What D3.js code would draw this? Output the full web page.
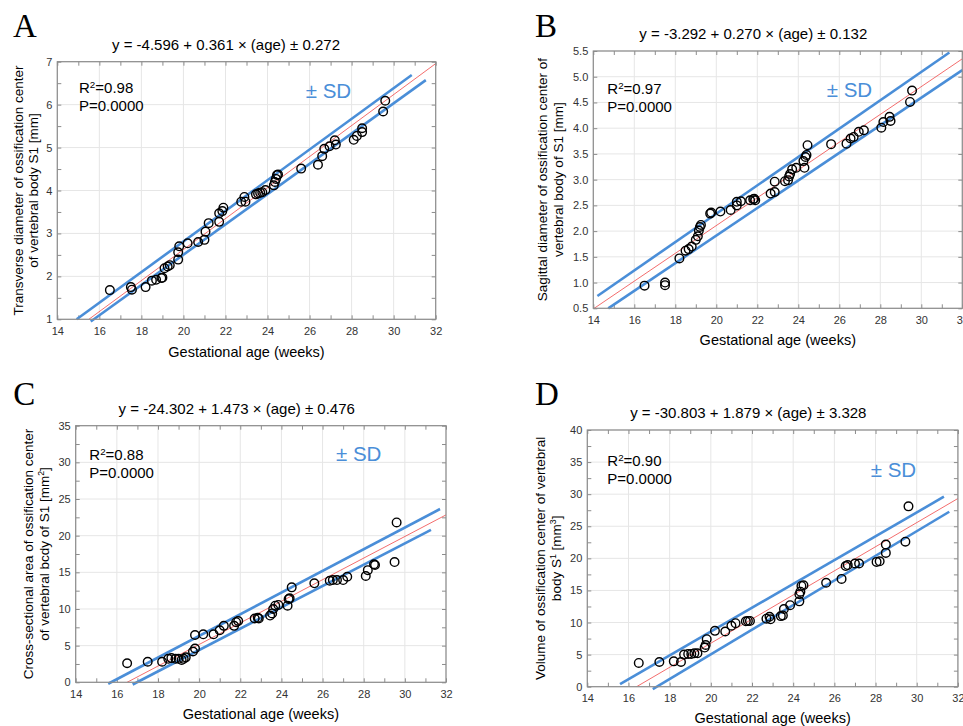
<!DOCTYPE html>
<html>
<head>
<meta charset="UTF-8">
<title>S1 ossification center vs gestational age</title>
<style>
    body { margin: 0; background: #fff; }
    svg { display: block; font-family: "Liberation Sans", Arial, sans-serif; }
    .grid line { stroke: #e6e6e6; stroke-width: 1; }
    .frame { fill: none; stroke: #8c8c8c; stroke-width: 1.2; }
    .minor line { stroke: #8c8c8c; stroke-width: 1; }
    .minor .domain, .labels .domain, .labels line { display: none; }
    .labels text { font-size: 11px; fill: #333; font-family: "Liberation Sans", Arial, sans-serif; }
    .fit { fill: none; stroke: #f04848; stroke-width: 0.8; }
    .sd { fill: none; stroke: #4a8ed8; stroke-width: 2.6; }
    .dot { fill: none; stroke: #000; stroke-width: 1.4; }
    .letter { font-family: "Liberation Serif", "Times New Roman", serif; font-size: 33px; }
    .eq { font-size: 15px; }
    .ylab { font-size: 13.5px; }
    .xlab { font-size: 14.5px; }
    .stat { font-size: 15px; }
    .sdlab { font-size: 20.5px; fill: #4a8ed8; }
</style>
</head>
<body>
<script src="https://d3js.org/d3.v7.min.js"></script>
<script>
    var xTicks = [14, 16, 18, 20, 22, 24, 26, 28, 30, 32];

    // A: transverse diameter (mm)
    var agesA = [16.5, 17.5, 17.55, 18.2, 18.5, 18.7, 18.95, 19.0, 19.1, 19.25, 19.35, 19.75, 19.75, 19.8,
        20.2, 20.7, 21.0, 21.05, 21.2, 21.7, 21.7, 21.85, 21.9, 22.75, 22.9, 22.95, 23.45, 23.55, 23.65,
        23.75, 23.9, 24.3, 24.35, 24.4, 24.45, 24.5, 25.6, 26.4, 26.6, 26.7, 26.95, 27.2, 27.25, 28.1,
        28.25, 28.5, 28.5, 29.5, 29.6];
    var transverse = [1.68, 1.75, 1.69, 1.75, 1.90, 1.92, 1.96, 1.97, 2.19, 2.23, 2.26, 2.39, 2.56, 2.70,
        2.77, 2.80, 2.85, 3.04, 3.24, 3.27, 3.47, 3.52, 3.60, 3.74, 3.85, 3.74, 3.91, 3.93, 3.95,
        3.96, 4.01, 4.12, 4.20, 4.27, 4.36, 4.37, 4.51, 4.60, 4.80, 4.97, 5.03, 5.17, 5.07, 5.18,
        5.27, 5.36, 5.45, 5.84, 6.09];
    var fitA = [-4.596, 0.361];
    var sdUpperA = [[14.92, 1.0], [30.86, 6.69]];
    var sdLowerA = [[15.59, 0.95], [31.53, 6.57]];
    var yTicksA = [1, 2, 3, 4, 5, 6, 7];

    // B: sagittal diameter (mm)
    var agesB = [16.5, 17.5, 17.5, 18.2, 18.5, 18.65, 18.8, 19.0, 19.1, 19.15, 19.2, 19.25, 19.7, 19.75,
        20.2, 20.7, 21.0, 21.0, 21.2, 21.65, 21.8, 21.85, 21.9, 22.65, 22.85, 22.85, 23.35, 23.5, 23.55,
        23.6, 23.7, 23.9, 24.25, 24.3, 24.35, 24.4, 24.45, 25.6, 26.35, 26.55, 26.7, 26.95, 27.2, 28.05,
        28.15, 28.45, 28.5, 29.45, 29.55];
    var sagittal = [0.94, 1.00, 0.95, 1.47, 1.62, 1.65, 1.70, 1.83, 1.90, 2.01, 2.08, 2.12, 2.34, 2.36,
        2.38, 2.41, 2.50, 2.57, 2.58, 2.60, 2.62, 2.63, 2.60, 2.73, 2.76, 2.96, 2.97, 2.99, 3.06,
        3.11, 3.20, 3.23, 3.36, 3.23, 3.44, 3.48, 3.67, 3.69, 3.70, 3.80, 3.83, 3.93, 3.96, 4.01,
        4.12, 4.22, 4.14, 4.51, 4.73];
    var fitB = [-3.292, 0.270];
    var sdUpperB = [[14.2, 0.74], [31.37, 5.47]];
    var sdLowerB = [[14.73, 0.5], [32.0, 5.13]];
    var yTicksB = [0.5, 1.0, 1.5, 2.0, 2.5, 3.0, 3.5, 4.0, 4.5, 5.0, 5.5];

    // C: cross-sectional area (mm2)
    var agesC = [16.5, 17.5, 18.2, 18.5, 18.65, 18.85, 19.0, 19.15, 19.25, 19.35, 19.7, 19.8, 19.8, 20.2,
        20.7, 21.0, 21.2, 21.7, 21.8, 21.9, 22.7, 22.85, 22.9, 23.45, 23.55, 23.6, 23.7, 23.85, 24.3,
        24.35, 24.4, 24.5, 25.6, 26.35, 26.5, 26.7, 27.0, 27.2, 28.1, 28.2, 28.5, 28.55, 29.5, 29.6];
    var area = [2.6, 2.8, 2.8, 3.2, 3.3, 3.2, 3.2, 3.05, 3.2, 3.4, 4.2, 4.6, 6.45, 6.55,
        6.55, 7.1, 7.7, 7.7, 8.2, 8.35, 8.7, 8.8, 8.7, 9.1, 9.4, 10.0, 10.45, 10.55, 10.45,
        11.35, 11.45, 12.95, 13.5, 13.85, 13.95, 13.95, 13.95, 14.4, 14.5, 15.3, 16.1, 16.0, 16.4, 21.8];
    var fitC = [-24.302, 1.473];
    var sdUpperC = [[15.58, -0.2], [31.71, 23.64]];
    var sdLowerC = [[16.77, -0.3], [31.27, 20.8]];
    var yTicksC = [0, 5, 10, 15, 20, 25, 30, 35];

    // D: volume (mm3)
    var agesD = [16.5, 17.5, 18.2, 18.55, 18.7, 18.9, 19.05, 19.2, 19.35, 19.7, 19.75, 19.8, 20.2, 20.7,
        21.0, 21.2, 21.7, 21.8, 21.9, 22.7, 22.85, 22.9, 23.4, 23.5, 23.55, 23.85, 24.3, 24.3, 24.35,
        24.4, 24.5, 25.6, 26.35, 26.55, 26.65, 27.0, 27.2, 28.05, 28.2, 28.5, 28.5, 29.45, 29.6];
    var volume = [3.7, 3.85, 3.95, 3.85, 5.0, 5.1, 5.1, 5.2, 5.2, 6.1, 6.5, 7.4, 8.7, 8.6,
        9.5, 9.9, 10.2, 10.25, 10.25, 10.6, 10.9, 10.5, 11.0, 11.1, 12.1, 12.7, 13.3, 14.4, 14.8,
        15.7, 15.8, 16.2, 16.8, 18.8, 18.95, 19.2, 19.2, 19.45, 19.55, 22.15, 20.85, 22.6, 28.1];
    var fitD = [-30.803, 1.879];
    var sdUpperD = [[15.59, 0.42], [31.32, 29.6]];
    var sdLowerD = [[17.18, -0.36], [31.58, 27.26]];
    var yTicksD = [0, 5, 10, 15, 20, 25, 30, 35, 40];

    // text pieces: [string, superscript?]
    var panels = [
        {letter: "A", ages: agesA, vals: transverse, fit: fitA, up: sdUpperA, lo: sdLowerA,
            yTicks: yTicksA, yMinor: 0.5, fmt: d3.format("d"),
            eq: "y = -4.596 + 0.361 \u00d7 (age) \u00b1 0.272", r2: "=0.98",
            ylab: [[["Transverse diameter of ossification center"]], [["of vertebral body S1 [mm]"]]],
            box: {l: 57.3, r: 435.7, t: 61.7, b: 319.3},
            letterAt: [13, 37], eqAt: [226, 49.5], ylabX: [23, 38], r2At: [79, 93], sdAt: [305.7, 97.5], xlabY: 357},
        {letter: "B", ages: agesB, vals: sagittal, fit: fitB, up: sdUpperB, lo: sdLowerB,
            yTicks: yTicksB, yMinor: 0.5, fmt: d3.format(".1f"),
            eq: "y = -3.292 + 0.270 \u00d7 (age) \u00b1 0.132", r2: "=0.97",
            ylab: [[["Sagittal diameter of ossification center of"]], [["vertebral body of S1 [mm]"]]],
            box: {l: 593.3, r: 962.3, t: 51, b: 308.3},
            letterAt: [535, 36.7], eqAt: [753.3, 38.5], ylabX: [547, 563], r2At: [607.3, 94], sdAt: [826.7, 97], xlabY: 345},
        {letter: "C", ages: agesC, vals: area, fit: fitC, up: sdUpperC, lo: sdLowerC,
            yTicks: yTicksC, yMinor: 2.5, fmt: d3.format("d"),
            eq: "y = -24.302 + 1.473 \u00d7 (age) \u00b1 0.476", r2: "=0.88",
            ylab: [[["Cross-sectional area of ossification center"]], [["of vertebral bcdy of S1 [mm"], ["2", true], ["]"]]],
            box: {l: 75.7, r: 446, t: 425.7, b: 682.3},
            letterAt: [13.3, 404.5], eqAt: [236.7, 413.5], ylabX: [33, 49], r2At: [89.3, 459.5], sdAt: [336, 460.5], xlabY: 719},
        {letter: "D", ages: agesD, vals: volume, fit: fitD, up: sdUpperD, lo: sdLowerD,
            yTicks: yTicksD, yMinor: 2.5, fmt: d3.format("d"),
            eq: "y = -30.803 + 1.879 \u00d7 (age) \u00b1 3.328", r2: "=0.90",
            ylab: [[["Volume of ossification center of vertebral"]], [["body S"], ["1", true], [" [mm"], ["3", true], ["]"]]],
            box: {l: 587.3, r: 957.9, t: 430, b: 686.7},
            letterAt: [535, 405], eqAt: [748.3, 417.5], ylabX: [545, 561], r2At: [607.3, 466], sdAt: [870.7, 476.7], xlabY: 723}
    ];

    var svg = d3.select("body").append("svg")
        .attr("width", 963)
        .attr("height", 726);

    function rich(text, parts) {
        parts.forEach(function(p) {
            var t = text.append("tspan").text(p[0]);
            if (p[1]) t.attr("font-size", "65%").attr("baseline-shift", "super");
        });
    }

    panels.forEach(function(p, i) {
        var b = p.box;
        var yd = d3.extent(p.yTicks);
        var x = d3.scaleLinear().domain([14, 32]).range([b.l, b.r]);
        var y = d3.scaleLinear().domain(yd).range([b.b, b.t]);
        var g = svg.append("g");

        svg.append("clipPath").attr("id", "clip" + i)
            .append("rect")
            .attr("x", b.l).attr("y", b.t)
            .attr("width", b.r - b.l).attr("height", b.b - b.t);

        // grid
        var grid = g.append("g").attr("class", "grid");
        grid.selectAll(".gx").data(xTicks).enter().append("line")
            .attr("x1", (d) => x(d)).attr("x2", (d) => x(d))
            .attr("y1", b.t).attr("y2", b.b);
        grid.selectAll(".gy").data(p.yTicks).enter().append("line")
            .attr("y1", (d) => y(d)).attr("y2", (d) => y(d))
            .attr("x1", b.l).attr("x2", b.r);

        // inward minor ticks on all four sides
        var xMinor = d3.range(14, 32.01, 1);
        var yMinorV = d3.range(yd[0], yd[1] + 1e-6, p.yMinor);
        g.append("g").attr("class", "minor").attr("transform", `translate(0,${b.b})`)
            .call(d3.axisBottom(x).tickValues(xMinor).tickSize(-4).tickFormat(""));
        g.append("g").attr("class", "minor").attr("transform", `translate(0,${b.t})`)
            .call(d3.axisTop(x).tickValues(xMinor).tickSize(-4).tickFormat(""));
        g.append("g").attr("class", "minor").attr("transform", `translate(${b.l},0)`)
            .call(d3.axisLeft(y).tickValues(yMinorV).tickSize(-4).tickFormat(""));
        g.append("g").attr("class", "minor").attr("transform", `translate(${b.r},0)`)
            .call(d3.axisRight(y).tickValues(yMinorV).tickSize(-4).tickFormat(""));

        // tick labels
        g.append("g").attr("class", "labels").attr("transform", `translate(0,${b.b})`)
            .call(d3.axisBottom(x).tickValues(xTicks).tickSize(0).tickPadding(8).tickFormat(d3.format("d")));
        g.append("g").attr("class", "labels").attr("transform", `translate(${b.l},0)`)
            .call(d3.axisLeft(y).tickValues(p.yTicks).tickSize(0).tickPadding(5).tickFormat(p.fmt));

        // regression line
        g.append("path")
            .attr("class", "fit")
            .attr("clip-path", `url(#clip${i})`)
            .attr("d", d3.line().x((d) => x(d)).y((d) => y(p.fit[0] + p.fit[1] * d))([14, 32]));

        // +/- SD lines
        var sdLine = d3.line().x((d) => x(d[0])).y((d) => y(d[1]));
        g.append("path").attr("class", "sd").attr("d", sdLine(p.up));
        g.append("path").attr("class", "sd").attr("d", sdLine(p.lo));

        // frame
        g.append("rect").attr("class", "frame")
            .attr("x", b.l).attr("y", b.t)
            .attr("width", b.r - b.l).attr("height", b.b - b.t);

        // observations
        g.selectAll(".dot").data(p.ages).enter().append("circle")
            .attr("class", "dot")
            .attr("cx", (d) => x(d))
            .attr("cy", (d, j) => y(p.vals[j]))
            .attr("r", 4.3);

        // texts
        g.append("text").attr("class", "letter")
            .attr("x", p.letterAt[0]).attr("y", p.letterAt[1]).text(p.letter);
        g.append("text").attr("class", "eq")
            .attr("x", p.eqAt[0]).attr("y", p.eqAt[1])
            .style("text-anchor", "middle").text(p.eq);

        var cy = (b.t + b.b) / 2;
        p.ylab.forEach(function(line, k) {
            var t = g.append("text").attr("class", "ylab")
                .attr("transform", `translate(${p.ylabX[k]},${cy}) rotate(-90)`)
                .style("text-anchor", "middle");
            rich(t, line);
        });

        g.append("text").attr("class", "xlab")
            .attr("x", (b.l + b.r) / 2).attr("y", p.xlabY)
            .style("text-anchor", "middle").text("Gestational age (weeks)");

        var r2 = g.append("text").attr("class", "stat")
            .attr("x", p.r2At[0]).attr("y", p.r2At[1]);
        rich(r2, [["R"], ["2", true], [p.r2]]);
        g.append("text").attr("class", "stat")
            .attr("x", p.r2At[0]).attr("y", p.r2At[1] + 18).text("P=0.0000");

        g.append("text").attr("class", "sdlab")
            .attr("x", p.sdAt[0]).attr("y", p.sdAt[1]).text("\u00b1 SD");
    });
</script>
</body>
</html>
